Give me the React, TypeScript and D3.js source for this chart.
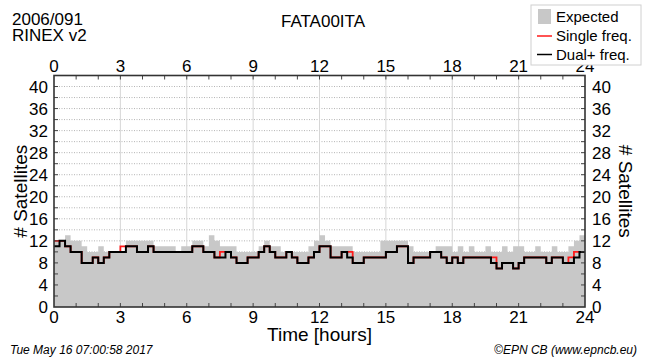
import React from 'react';
import * as d3 from 'd3';

// satellite counts per 15 min slot (96 slots over 24h)
const slotHours = 0.25;

const expected = [
  12, 12, 13, 12, 12, 11, 10, 10, 11, 10, 10, 10, 10, 12, 12, 12,
  12, 12, 11, 11, 11, 11, 10, 11, 11, 12, 12, 11, 13, 12, 11, 11,
  11, 10, 10, 10, 10, 11, 12, 11, 11, 10, 10, 10, 10, 10, 11, 12,
  13, 12, 11, 11, 11, 11, 10, 10, 10, 10, 10, 12, 12, 12, 12, 12,
  11, 10, 10, 10, 10, 11, 11, 11, 10, 11, 10, 11, 10, 10, 11, 10,
  10, 11, 10, 11, 11, 10, 10, 11, 10, 10, 11, 10, 10, 11, 12, 13,
];

const dual = [
  11, 12, 11, 10, 10, 8, 8, 9, 8, 9, 10, 10, 10, 11, 11, 10,
  10, 11, 10, 10, 10, 10, 10, 10, 10, 11, 11, 10, 10, 9, 9, 10,
  9, 8, 8, 9, 9, 10, 11, 10, 9, 9, 10, 9, 8, 8, 9, 10,
  11, 11, 9, 9, 10, 9, 8, 8, 9, 9, 9, 9, 10, 10, 11, 11,
  8, 9, 9, 9, 10, 10, 9, 8, 9, 8, 9, 9, 9, 9, 9, 8,
  7, 8, 8, 7, 8, 9, 9, 9, 9, 8, 9, 9, 8, 8, 9, 10,
];

const single = [
  12, 12, 11, 10, 10, 8, 8, 9, 8, 9, 10, 10, 11, 11, 11, 10,
  10, 11, 10, 10, 10, 10, 10, 10, 10, 11, 11, 10, 10, 9, 10, 10,
  9, 8, 8, 9, 9, 10, 11, 10, 9, 9, 10, 9, 8, 8, 9, 10,
  11, 11, 9, 9, 10, 10, 8, 8, 9, 9, 9, 9, 10, 10, 11, 11,
  8, 9, 9, 9, 10, 10, 9, 8, 9, 8, 9, 9, 9, 9, 9, 9,
  7, 8, 8, 7, 8, 9, 9, 9, 9, 8, 9, 9, 8, 9, 10, 10,
];

const xTicks = [0, 3, 6, 9, 12, 15, 18, 21, 24];
const yTicks = [0, 4, 8, 12, 16, 20, 24, 28, 32, 36, 40];

const toPoints = (vals: number[]): [number, number][] => {
  const pts = vals.map((v, i) => [i * slotHours, v] as [number, number]);
  pts.push([vals.length * slotHours, vals[vals.length - 1]]);
  return pts;
};

const font = '"Liberation Sans", Arial, Helvetica, sans-serif';

export default function App() {
  const W = 650, H = 362;
  const left = 54, right = 585, top = 75.5, bottom = 307;

  const x = d3.scaleLinear().domain([0, 24]).range([left, right]);
  const y = d3.scaleLinear().domain([0, 42]).range([bottom, top]);

  const area = d3.area<[number, number]>()
    .x(d => x(d[0]))
    .y0(y(0))
    .y1(d => y(d[1]))
    .curve(d3.curveStepAfter);

  const line = d3.line<[number, number]>()
    .x(d => x(d[0]))
    .y(d => y(d[1]))
    .curve(d3.curveStepAfter);

  const hourTicks = d3.range(1, 24);
  const minorY = d3.range(2, 42, 2);

  return (
    <svg width={W} height={H} style={{ position: 'absolute', left: 0, top: 0 }} fontFamily={font}>
      <rect width={W} height={H} fill="#fff" />

      {/* dotted horizontal grid */}
      {minorY.map(v => (
        <line key={'hg' + v} x1={left} x2={right} y1={y(v)} y2={y(v)}
          stroke="#b4b4b4" strokeWidth={1} strokeDasharray="1,1.5" />
      ))}
      {/* vertical grid */}
      {xTicks.slice(1, -1).map(t => (
        <line key={'vg' + t} x1={x(t)} x2={x(t)} y1={top} y2={bottom}
          stroke="#d6d6d6" strokeWidth={1} />
      ))}

      <path d={area(toPoints(expected)) || ''} fill="#c8c8c8" />
      <path d={line(toPoints(single)) || ''} fill="none" stroke="#ff1a1a" strokeWidth={1.8} />
      <path d={line(toPoints(dual)) || ''} fill="none" stroke="#000" strokeWidth={2} />

      {/* hour ticks, top and bottom */}
      {hourTicks.map(t => (
        <g key={'ht' + t}>
          <line x1={x(t)} x2={x(t)} y1={bottom} y2={bottom - 4} stroke="#444" />
          <line x1={x(t)} x2={x(t)} y1={top} y2={top + 4} stroke="#444" />
        </g>
      ))}
      {/* y ticks left and right */}
      {minorY.map(v => (
        <g key={'yt' + v}>
          <line x1={left} x2={left + 4} y1={y(v)} y2={y(v)} stroke="#444" />
          <line x1={right} x2={right - 4} y1={y(v)} y2={y(v)} stroke="#444" />
        </g>
      ))}

      <rect x={left} y={top} width={right - left} height={bottom - top}
        fill="none" stroke="#333" strokeWidth={1.6} />

      {/* tick labels */}
      {xTicks.map(t => (
        <g key={'xl' + t} fontSize={17} textAnchor="middle" fill="#000">
          <text x={x(t)} y={72}>{t}</text>
          <text x={x(t)} y={323}>{t}</text>
        </g>
      ))}
      {yTicks.map(v => (
        <g key={'yl' + v} fontSize={17} fill="#000">
          <text x={48} y={y(v) + 6} textAnchor="end">{v}</text>
          <text x={592} y={y(v) + 6} textAnchor="start">{v}</text>
        </g>
      ))}

      <text x={(left + right) / 2} y={341} fontSize={19} textAnchor="middle">Time [hours]</text>
      <text transform={`translate(27,${(top + bottom) / 2}) rotate(-90)`} fontSize={19} textAnchor="middle"># Satellites</text>
      <text transform={`translate(619,${(top + bottom) / 2}) rotate(90)`} fontSize={19} textAnchor="middle"># Satellites</text>

      <text x={12} y={25} fontSize={17}>2006/091</text>
      <text x={12} y={41} fontSize={17}>RINEX v2</text>
      <text x={323} y={27} fontSize={17} textAnchor="middle">FATA00ITA</text>

      {/* legend */}
      <rect x={531} y={5} width={110} height={60} fill="#fff" stroke="#d0d0d0" />
      <rect x={538} y={9} width={13} height={15} fill="#c8c8c8" />
      <text x={556} y={22} fontSize={15}>Expected</text>
      <line x1={537} x2={552} y1={36} y2={36} stroke="#ff1a1a" strokeWidth={1.5} />
      <text x={556} y={41} fontSize={15}>Single freq.</text>
      <line x1={537} x2={552} y1={54.5} y2={54.5} stroke="#000" strokeWidth={1.5} />
      <text x={556} y={60} fontSize={15}>Dual+ freq.</text>

      <text x={10} y={354} fontSize={12} fontStyle="italic">Tue May 16 07:00:58 2017</text>
      <text x={637} y={354} fontSize={12} fontStyle="italic" textAnchor="end">©EPN CB (www.epncb.eu)</text>
    </svg>
  );
}
